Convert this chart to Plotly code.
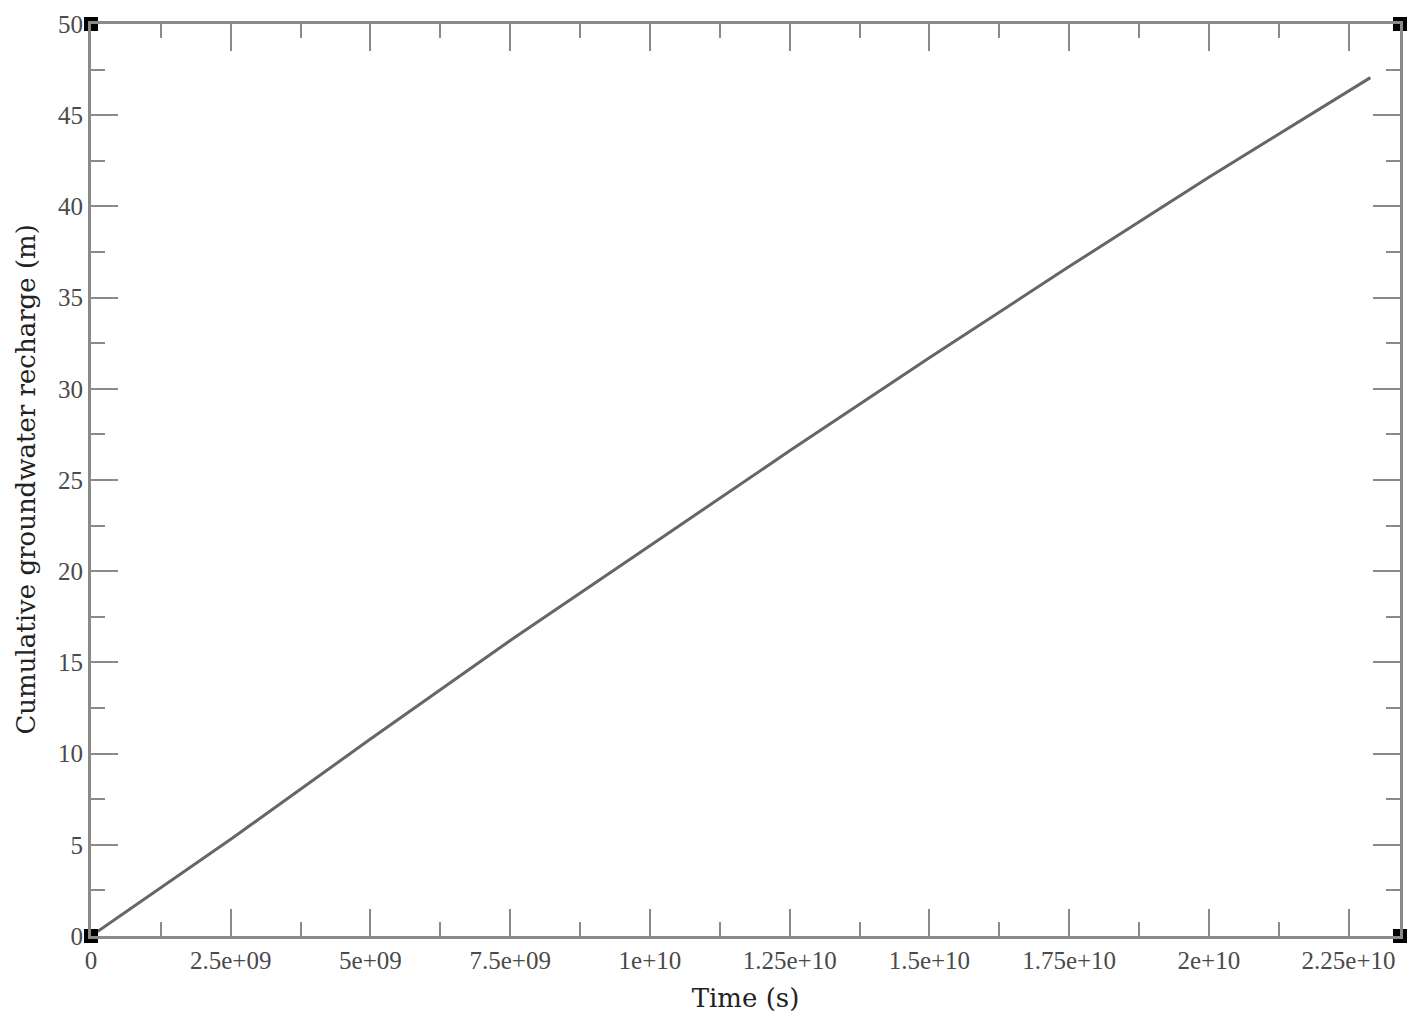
import plotly.graph_objects as go

# 読み取ったデータ (時間 [s], 累積地下水涵養量 [m])
time_s = [0, 1.25e9, 2.5e9, 5e9, 7.5e9, 1e10, 1.25e10, 1.5e10, 1.75e10, 2e10, 2.289e10]
recharge_m = [0, 2.65, 5.3, 10.8, 16.2, 21.4, 26.6, 31.7, 36.7, 41.6, 47.06]

x_ticks = [0, 2.5e9, 5e9, 7.5e9, 1e10, 1.25e10, 1.5e10, 1.75e10, 2e10, 2.25e10]
x_labels = ['0', '2.5e+09', '5e+09', '7.5e+09', '1e+10', '1.25e+10',
            '1.5e+10', '1.75e+10', '2e+10', '2.25e+10']
y_ticks = [0, 5, 10, 15, 20, 25, 30, 35, 40, 45, 50]

x_max = 2.342e10
y_max = 50

axis_color = '#8a8a8a'
tick_font = dict(family='Liberation Serif', size=25, color='#4a4a4a')
title_font = dict(family='DejaVu Serif', size=26, color='#222222')

fig = go.Figure()

fig.add_trace(go.Scatter(x=time_s, y=recharge_m, mode='lines',
                         line=dict(color='#666666', width=3), showlegend=False))

# 角の黒い四角マーカー
fig.add_trace(go.Scatter(x=[0, 0, x_max, x_max], y=[0, y_max, y_max, 0],
                         mode='markers', cliponaxis=False, showlegend=False,
                         marker=dict(symbol='square', size=14, color='black')))

common = dict(showgrid=False, zeroline=False, showline=True, linecolor=axis_color,
              linewidth=3, mirror='ticks', ticks='inside', ticklen=27, tickwidth=2,
              tickcolor=axis_color, tickfont=tick_font, automargin=False,
              ticklabeloverflow='allow')

fig.update_layout(
    width=1418, height=1031,
    margin=dict(l=83, r=26, t=16, b=103),
    plot_bgcolor='white', paper_bgcolor='white',
    xaxis=dict(range=[0, x_max], tickvals=x_ticks, ticktext=x_labels,
               minor=dict(ticks='inside', ticklen=14, tickwidth=2, tickcolor=axis_color,
                          dtick=1.25e9, tick0=0),
               title=dict(text='Time (s)', font=title_font, standoff=16), **common),
    yaxis=dict(range=[0, y_max], tickvals=y_ticks,
               minor=dict(ticks='inside', ticklen=14, tickwidth=2, tickcolor=axis_color,
                          dtick=2.5, tick0=0), **common),
)

# 縦軸タイトル
fig.add_annotation(text='Cumulative groundwater recharge (m)', font=title_font,
                   xref='paper', yref='paper', x=-0.050, y=0.5,
                   xanchor='center', yanchor='middle', textangle=-90, showarrow=False)

fig.write_html("out.html")
